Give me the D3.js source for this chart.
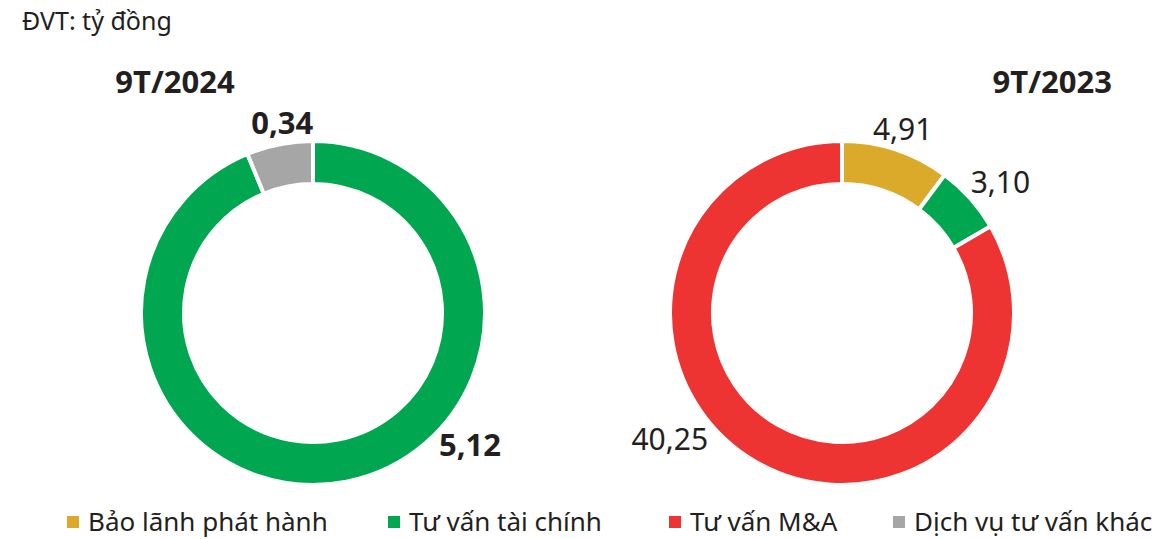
<!DOCTYPE html>
<meta charset="utf-8" />
<style>
  body { margin: 0; background: #fff; }
  svg text { font-family: "Noto Sans", "Open Sans", sans-serif; fill: #231f20; }
</style>
<body>
<script src="https://d3js.org/d3.v7.min.js"></script>
<script>
  // data
  var categories = ["Bảo lãnh phát hành", "Tư vấn tài chính", "Tư vấn M&A", "Dịch vụ tư vấn khác"];
  var colors = ["#dcaa2a", "#00a650", "#ee3432", "#a6a6a6"];
  var values2024 = [0, 5.12, 0, 0.34];
  var values2023 = [4.91, 3.10, 40.25, 0];
  var labels2024 = ["", "5,12", "", "0,34"];
  var labels2023 = ["4,91", "3,10", "40,25", ""];

  var width = 1170, height = 539;
  var svg = d3.select("body").append("svg")
    .attr("width", width).attr("height", height);

  svg.append("text")
    .attr("x", 22).attr("y", 30)
    .style("font-size", "25px")
    .text("ĐVT: tỷ đồng");

  var color = d3.scaleOrdinal().domain(categories).range(colors);

  var pie = d3.pie().sort(null).value(function (d) { return d.value; });
  var arc = d3.arc().innerRadius(129).outerRadius(172);

  function donut(cx, cy, values, labels, title, titleX, titleAnchor, bold, labelAngles) {
    var rows = categories.map(function (c, i) {
      return { cat: c, value: values[i], label: labels[i] };
    }).filter(function (d) { return d.value > 0; });

    var g = svg.append("g").attr("transform", "translate(" + cx + "," + cy + ")");
    var arcs = pie(rows);

    g.selectAll("path")
      .data(arcs)
      .enter().append("path")
      .attr("d", arc)
      .attr("fill", function (d) { return color(d.data.cat); })
      .attr("stroke", "#fff")
      .attr("stroke-width", 4);

    // labels, placed round the ring; some are nudged like the original
    g.selectAll("text.lbl")
      .data(arcs)
      .enter().append("text")
      .attr("class", "lbl")
      .attr("text-anchor", "middle")
      .attr("dy", "0.35em")
      .style("font-size", bold ? "31px" : "30px")
      .style("font-weight", bold ? "bold" : "normal")
      .attr("transform", function (d) {
        var o = labelAngles[d.data.cat];
        var a = o ? o[0] * Math.PI / 180 : (d.startAngle + d.endAngle) / 2;
        var r = o ? o[1] : 193;
        return "translate(" + (Math.sin(a) * r) + "," + (-Math.cos(a) * r) + ")";
      })
      .text(function (d) { return d.data.label; });

    svg.append("text")
      .attr("x", titleX).attr("y", 93)
      .attr("text-anchor", titleAnchor)
      .style("font-size", "31px")
      .style("font-weight", "bold")
      .text(title);
  }

  donut(313, 313, values2024, labels2024, "9T/2024", 175, "middle", true, {
    "Dịch vụ tư vấn khác": [-9.2, 192],
    "Tư vấn tài chính": [130, 205]
  });
  donut(842, 313, values2023, labels2023, "9T/2023", 1112, "end", false, {
    "Tư vấn tài chính": [50.6, 205],
    "Tư vấn M&A": [233.6, 214]
  });

  // legend
  var legendX = [67, 388, 669, 893];
  var lg = svg.selectAll("g.legend")
    .data(categories)
    .enter().append("g")
    .attr("class", "legend")
    .attr("transform", function (d, i) { return "translate(" + legendX[i] + ",522)"; });

  lg.append("rect")
    .attr("x", 0).attr("y", -6)
    .attr("width", 12).attr("height", 12)
    .attr("fill", function (d) { return color(d); });

  lg.append("text")
    .attr("x", 21).attr("dy", "0.35em")
    .style("font-size", "26px")
    .text(function (d) { return d; });
</script>
</body>
